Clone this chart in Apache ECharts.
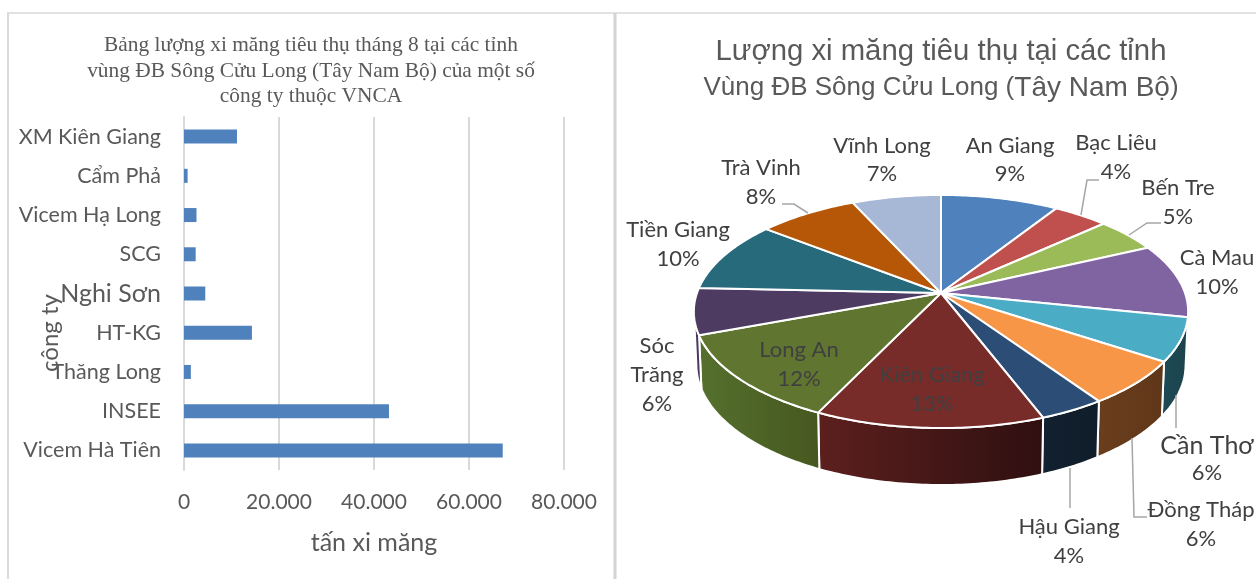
<!DOCTYPE html>
<html>
<head>
<meta charset="utf-8">
<style>html,body{margin:0;padding:0;background:#fff}#main{width:1256px;height:579px}</style>
<script src="https://cdn.jsdelivr.net/npm/echarts@6/dist/echarts.min.js"></script>
</head>
<body>
<div id="main"></div>
<script>
// Bar chart data (tan xi mang)
const companies = ['XM Kiên Giang', 'Cẩm Phả', 'Vicem Hạ Long', 'SCG', 'Nghi Sơn', 'HT-KG', 'Thăng Long', 'INSEE', 'Vicem Hà Tiên'];
const tonnes = [11150, 760, 2630, 2460, 4480, 14300, 1440, 43150, 67100];
const xTicks = [0, 20000, 40000, 60000, 80000];

// Pie data (share per province, read from slice boundaries)
const provinces = ['An Giang', 'Bạc Liêu', 'Bến Tre', 'Cà Mau', 'Cần Thơ', 'Đồng Tháp', 'Hậu Giang', 'Kiên Giang', 'Long An', 'Sóc Trăng', 'Tiền Giang', 'Trà Vinh', 'Vĩnh Long'];
const shares = [9.0, 4.2, 4.8, 10.3, 6.0, 6.2, 3.7, 12.9, 12.2, 6.4, 9.9, 7.6, 6.8];

// Pie styling, separate from the data
const sliceColors = ['#4f81bd', '#c0504d', '#9bbb59', '#8064a2', '#4bacc6', '#f79646', '#2c4d75', '#772c2a', '#5f7530', '#4d3b62', '#276a7c', '#b65708', '#a7b7d6'];
// colours of the front wall, left to right
const wallColors = {
    3: ['#4a3a5f', '#4a3a5f'],
    4: ['#1d4a55', '#1b424c'],
    5: ['#6a3e1d', '#5f3719'],
    6: ['#12212f', '#101d2b'],
    7: ['#5c201e', '#2f0f10'],
    8: ['#55702e', '#46581f'],
    9: ['#4d3b62', '#4a3860']
};
const labelLayout = [
    { x: 1010, y: [146, 174] },
    { x: 1116, y: [143, 172] },
    { x: 1178, y: [188, 217] },
    { x: 1217, y: [258, 287] },
    { x: 1207, y: [446, 473], size: 25 },
    { x: 1201, y: [510, 539] },
    { x: 1069, y: [527, 556] },
    { x: 932, y: [375, 404] },
    { x: 799, y: [350, 379] },
    { x: 657, y: [346, 375, 404], split: true },
    { x: 678, y: [230, 259] },
    { x: 761, y: [168, 197] },
    { x: 882, y: [146, 174] }
];
const leaders = [
    [[1081, 215], [1087, 180], [1099, 180]],
    [[1129, 235], [1147, 223], [1161, 223]],
    [[1176, 395], [1176, 428]],
    [[1132, 438], [1134, 517], [1147, 517]],
    [[1070, 468], [1070, 508]],
    [[808, 213], [794, 204], [782, 204]]
];

const FONT = 'Lato, "Noto Sans", sans-serif';
const TEXT = '#595959';
const PIE_TEXT = '#404040';

// Perspective projection of the tilted disc
const cx = 941, cy = 293, A = 244, B = 113.6, K = 0.1588;
const total = shares.reduce((a, b) => a + b, 0);
let run = 0;
const angles = shares.map(s => {
    const a = run / total * 2 * Math.PI;
    run += s;
    return [a, run / total * 2 * Math.PI];
});
function rim(t) {
    const u = Math.sin(t), v = -Math.cos(t), w = 1 - K * v;
    return [cx + A * u / w, cy + B * v / w];
}
function rimBottom(t) {
    const p = rim(t);
    return [cx + (p[0] - cx) * 0.99, p[1] + 52 + 5 * -Math.cos(t)];
}
function arc(fn, a, b) {
    const pts = [];
    const n = Math.max(2, Math.ceil((b - a) / 0.015));
    for (let i = 0; i <= n; i++) pts.push(fn(a + (b - a) * i / n));
    return pts;
}
const wallStart = 99 * Math.PI / 180, wallEnd = 261 * Math.PI / 180;

function renderWall(params, api) {
    const i = api.value(0);
    const a = Math.max(angles[i][0], wallStart), b = Math.min(angles[i][1], wallEnd);
    if (a >= b) return { type: 'group', children: [] };
    const top = arc(rim, a, b), bottom = arc(rimBottom, a, b).reverse();
    const xs = top.map(p => p[0]);
    return {
        type: 'polygon',
        shape: { points: top.concat(bottom) },
        style: {
            fill: {
                type: 'linear', global: true,
                x: Math.min.apply(null, xs), y: 0, x2: Math.max.apply(null, xs), y2: 0,
                colorStops: [
                    { offset: 0, color: wallColors[i][0] },
                    { offset: 1, color: wallColors[i][1] }
                ]
            },
            stroke: '#fff', lineWidth: 2, lineJoin: 'round'
        }
    };
}
function renderTop(params, api) {
    const i = api.value(0);
    return {
        type: 'polygon',
        shape: { points: [[cx, cy]].concat(arc(rim, angles[i][0], angles[i][1])) },
        style: { fill: sliceColors[i], stroke: '#fff', lineWidth: 2, lineJoin: 'round' }
    };
}
function renderLabel(params, api) {
    const i = api.value(0), l = labelLayout[i];
    const pct = Math.round(shares[i] / total * 100) + '%';
    const lines = (l.split ? provinces[i].split(' ') : [provinces[i]]).concat(pct);
    return {
        type: 'group',
        children: lines.map((t, k) => ({
            type: 'text',
            style: {
                text: t, x: l.x, y: l.y[k], fill: PIE_TEXT,
                font: (k === 0 && l.size ? l.size : 22) + 'px ' + FONT, align: 'center', verticalAlign: 'middle'
            }
        }))
    };
}
function renderLeader(params, api) {
    return {
        type: 'polyline',
        shape: { points: leaders[api.value(0)] },
        style: { fill: null, stroke: '#a6a6a6', lineWidth: 1.5 }
    };
}
function pieLayer(name, fn, count, z) {
    return {
        name: name, type: 'custom', coordinateSystem: 'none', renderItem: fn, z: z,
        data: Array.from({ length: count }, (_, i) => [i]), silent: true, animation: false
    };
}

var myChart = echarts.init(document.getElementById('main'), null, { renderer: 'canvas' });

const SANS = '"Liberation Sans", Arial, sans-serif';

var option = {
    animation: false,
    backgroundColor: '#fff',
    title: [
        {
            text: 'Bảng lượng xi măng tiêu thụ tháng 8 tại các tỉnh\nvùng ĐB Sông Cửu Long (Tây Nam Bộ) của một số\ncông ty thuộc VNCA',
            left: 311, top: 33, textAlign: 'center', padding: 0,
            textStyle: { fontFamily: '"Liberation Serif", serif', fontSize: 21.4, fontWeight: 'normal', color: TEXT, lineHeight: 25.5 }
        },
        {
            text: '{a|Lượng xi măng tiêu thụ tại các tỉnh}\n{b|Vùng ĐB Sông Cửu Long (}{a2|Tây Nam Bộ}{b|)}',
            left: 941, top: 34, textAlign: 'center', padding: 0,
            textStyle: {
                fontFamily: SANS, fontWeight: 'normal', color: TEXT,
                rich: {
                    a: { fontSize: 29.3, fontWeight: 'normal', color: TEXT, fontFamily: SANS, lineHeight: 36 },
                    b: { fontSize: 26, fontWeight: 'normal', color: TEXT, fontFamily: SANS, lineHeight: 36 },
                    a2: { fontSize: 28, fontWeight: 'normal', color: TEXT, fontFamily: SANS, lineHeight: 36 }
                }
            }
        }
    ],
    grid: { left: 184, top: 117, width: 380, height: 353, containLabel: false },
    xAxis: {
        type: 'value', min: xTicks[0], max: xTicks[xTicks.length - 1], interval: xTicks[1] - xTicks[0],
        name: 'tấn xi măng', nameLocation: 'middle', nameGap: 60,
        nameTextStyle: { fontFamily: FONT, fontSize: 25, color: TEXT },
        axisLine: { show: false }, axisTick: { show: false },
        splitLine: { lineStyle: { color: '#d9d9d9', width: 2 } },
        axisLabel: {
            margin: 22, fontFamily: FONT, fontSize: 21, color: TEXT,
            formatter: v => String(v).replace(/\B(?=(\d{3})+$)/g, '.')
        }
    },
    yAxis: {
        type: 'category', data: companies, inverse: true,
        axisLine: { lineStyle: { color: '#d9d9d9', width: 2 } }, axisTick: { show: false },
        axisLabel: {
            margin: 23, fontFamily: FONT, fontSize: 21.5, color: TEXT,
            formatter: v => v === 'Nghi Sơn' ? '{big|' + v + '}' : v,
            rich: { big: { fontFamily: FONT, fontSize: 25, color: TEXT } }
        }
    },
    graphic: [
        { type: 'line', shape: { x1: 7, y1: 13, x2: 1256, y2: 13 }, style: { stroke: '#d9d9d9', lineWidth: 1.5 }, silent: true },
        { type: 'line', shape: { x1: 8, y1: 13, x2: 8, y2: 579 }, style: { stroke: '#d9d9d9', lineWidth: 2 }, silent: true },
        { type: 'line', shape: { x1: 615, y1: 13, x2: 615, y2: 579 }, style: { stroke: '#d4d4d4', lineWidth: 3 }, silent: true },
        {
            type: 'text', x: 50, y: 333, rotation: Math.PI / 2, silent: true, z: 10,
            style: { text: 'công ty', fill: TEXT, font: '24px ' + FONT, align: 'center', verticalAlign: 'middle' }
        }
    ],
    series: [
        {
            name: 'tấn xi măng', type: 'bar', data: tonnes, barWidth: 14,
            itemStyle: { color: '#4f81bd' }, silent: true
        },
        pieLayer('walls', renderWall, provinces.length, 2),
        pieLayer('slices', renderTop, provinces.length, 3),
        pieLayer('leaders', renderLeader, leaders.length, 4),
        pieLayer('labels', renderLabel, provinces.length, 5)
    ]
};

myChart.setOption(option);
</script>
</body>
</html>
